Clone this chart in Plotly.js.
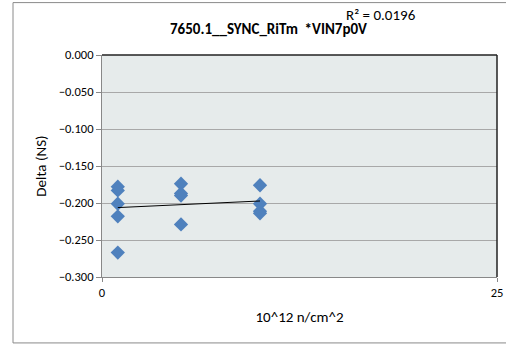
<!DOCTYPE html>
<html><head><meta charset="utf-8">
<script src="https://cdn.plot.ly/plotly-3.0.1.min.js"></script>
<style>html,body{margin:0;padding:0;background:#fff;}#c{width:506px;height:346px;}</style>
</head><body><div id="c"></div>
<script>
const fluence = [1,1,1,1,1, 5,5,5,5, 10,10,10,10];
const delta = [-0.178,-0.183,-0.201,-0.218,-0.267, -0.174,-0.187,-0.190,-0.229, -0.176,-0.201,-0.211,-0.214];
const titleText = '7650.1__SYNC_RiTm  *VIN7p0V';
const r2Text = 'R² = 0.0196';
const yTicks = [0,-0.05,-0.1,-0.15,-0.2,-0.25,-0.3];
const xTicks = [0,25];

// least squares trend line
const n = fluence.length;
const mx = fluence.reduce((a,b)=>a+b,0)/n;
const my = delta.reduce((a,b)=>a+b,0)/n;
let sxy=0,sxx=0;
for(let i=0;i<n;i++){sxy+=(fluence[i]-mx)*(delta[i]-my);sxx+=(fluence[i]-mx)**2;}
const slope=sxy/sxx, icpt=my-slope*mx;
const xmin=Math.min(...fluence), xmax=Math.max(...fluence);

const font = 'Calibri, Carlito, "Liberation Sans", Arial, sans-serif';
const data = [
 {x:fluence,y:delta,type:'scatter',mode:'markers',
  marker:{symbol:'diamond',size:11,color:'#4f81bd',line:{width:0}},hoverinfo:'none'},
 {x:[xmin,xmax],y:[icpt+slope*xmin,icpt+slope*xmax],type:'scatter',mode:'lines',
  line:{color:'#000',width:1},hoverinfo:'none'}
];
const layout = {
 width:506,height:346,showlegend:false,
 margin:{l:102,r:9,t:55,b:69},
 paper_bgcolor:'#fff',plot_bgcolor:'#e6ebeb',
 font:{family:font,size:12.5,color:'#000'},
 xaxis:{range:[0,25],tickvals:xTicks,ticktext:['0','25'],showgrid:false,zeroline:false,
  showline:true,linecolor:'#888',mirror:false,ticks:'outside',ticklen:4,tickcolor:'#888',
  tickfont:{size:12.5},title:{text:'10^12 n/cm^2',font:{size:15},standoff:12}},
 yaxis:{range:[-0.3,0],tickvals:yTicks,tickformat:'.3f',showgrid:true,gridcolor:'#a8a8a8',gridwidth:1,
  zeroline:false,showline:true,linecolor:'#888',ticks:'outside',ticklen:5,tickcolor:'#888',
  tickfont:{size:12.5},title:{text:'Delta (NS)',font:{size:15},standoff:8}},
 shapes:[
  {type:'line',xref:'paper',yref:'paper',x0:0,x1:1,y0:1,y1:1,line:{color:'#222',width:1.5}},
  {type:'line',xref:'paper',yref:'paper',x0:1,x1:1,y0:0,y1:1,line:{color:'#222',width:1.5}},
  {type:'rect',xref:'paper',yref:'paper',x0:-0.2253,x1:1.04,y0:-0.297,y1:1.236,line:{color:'#8a8a8a',width:1}}
 ],
 annotations:[
  {text:'<b>'+titleText+'</b>',xref:'paper',yref:'paper',x:(268-102)/395,y:(277-29)/222,
   showarrow:false,xanchor:'center',yanchor:'middle',font:{size:15}},
  {text:r2Text,xref:'paper',yref:'paper',x:(344-102)/395,y:(277-15)/222,
   showarrow:false,xanchor:'left',yanchor:'middle',font:{size:15}}
 ]
};
Plotly.newPlot('c',data,layout,{displayModeBar:false,staticPlot:true});
</script></body></html>
